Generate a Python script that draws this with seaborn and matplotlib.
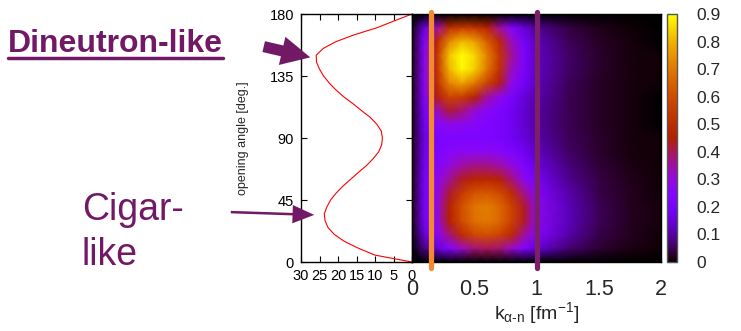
import matplotlib
matplotlib.use('Agg')
import matplotlib.pyplot as plt
import numpy as np
import pandas as pd
import seaborn as sns
from matplotlib.lines import Line2D

# left panel: opening-angle distribution (plotted sideways, x axis reversed)
curve_angle = list(range(0, 181, 5))
curve_density = [0.0, 10.0, 14.5, 18.3, 21.0, 22.7, 23.5, 23.7, 23.0, 22.0,
                 20.5, 18.7, 16.6, 14.5, 12.3, 10.5, 9.0, 8.2, 8.0, 8.3,
                 9.5, 11.3, 13.7, 16.0, 18.5, 20.6, 22.4, 23.9, 25.0, 25.8,
                 25.9, 24.0, 20.5, 15.5, 9.5, 4.8, 0.0]

# right panel: density vs k_alpha-n (columns) and opening angle (rows)
k_values = [0, 0.1, 0.2, 0.3, 0.4, 0.5, 0.6, 0.7, 0.8, 0.9, 1.0, 1.25, 1.5, 1.75, 2.0]
angle_grid = list(range(0, 181, 10))
density = [
    [0.00, 0.00, 0.00, 0.00, 0.00, 0.00, 0.00, 0.00, 0.00, 0.00, 0.00, 0.00, 0.000, 0.000, 0.000],
    [0.00, 0.08, 0.15, 0.24, 0.32, 0.38, 0.40, 0.38, 0.32, 0.23, 0.15, 0.07, 0.030, 0.012, 0.005],
    [0.01, 0.15, 0.25, 0.38, 0.50, 0.59, 0.61, 0.58, 0.49, 0.36, 0.24, 0.11, 0.045, 0.018, 0.007],
    [0.02, 0.19, 0.28, 0.45, 0.60, 0.68, 0.70, 0.67, 0.57, 0.43, 0.27, 0.12, 0.050, 0.020, 0.008],
    [0.02, 0.20, 0.29, 0.46, 0.61, 0.69, 0.71, 0.67, 0.57, 0.43, 0.27, 0.12, 0.050, 0.020, 0.008],
    [0.02, 0.20, 0.28, 0.42, 0.55, 0.62, 0.63, 0.60, 0.50, 0.37, 0.24, 0.11, 0.045, 0.018, 0.007],
    [0.02, 0.20, 0.27, 0.36, 0.43, 0.47, 0.48, 0.46, 0.38, 0.28, 0.20, 0.09, 0.040, 0.015, 0.006],
    [0.02, 0.18, 0.24, 0.30, 0.35, 0.37, 0.37, 0.35, 0.30, 0.22, 0.16, 0.075, 0.032, 0.012, 0.005],
    [0.02, 0.17, 0.22, 0.25, 0.27, 0.27, 0.27, 0.25, 0.22, 0.18, 0.13, 0.06, 0.027, 0.010, 0.004],
    [0.02, 0.16, 0.21, 0.22, 0.22, 0.22, 0.22, 0.21, 0.18, 0.15, 0.11, 0.055, 0.025, 0.010, 0.004],
    [0.02, 0.18, 0.25, 0.28, 0.27, 0.25, 0.23, 0.21, 0.18, 0.14, 0.10, 0.05, 0.022, 0.009, 0.003],
    [0.02, 0.20, 0.33, 0.42, 0.38, 0.31, 0.26, 0.22, 0.18, 0.14, 0.10, 0.05, 0.022, 0.009, 0.003],
    [0.02, 0.23, 0.44, 0.58, 0.56, 0.46, 0.36, 0.28, 0.21, 0.15, 0.11, 0.05, 0.022, 0.009, 0.003],
    [0.02, 0.25, 0.50, 0.72, 0.77, 0.70, 0.58, 0.44, 0.28, 0.19, 0.12, 0.055, 0.024, 0.010, 0.004],
    [0.02, 0.26, 0.52, 0.80, 0.89, 0.84, 0.70, 0.52, 0.33, 0.21, 0.13, 0.06, 0.025, 0.010, 0.004],
    [0.02, 0.26, 0.52, 0.82, 0.90, 0.85, 0.72, 0.54, 0.36, 0.22, 0.13, 0.06, 0.025, 0.010, 0.004],
    [0.02, 0.23, 0.48, 0.73, 0.81, 0.77, 0.65, 0.49, 0.33, 0.20, 0.12, 0.055, 0.022, 0.008, 0.003],
    [0.01, 0.16, 0.34, 0.50, 0.55, 0.53, 0.47, 0.36, 0.24, 0.15, 0.09, 0.04, 0.015, 0.006, 0.002],
    [0.00, 0.00, 0.00, 0.00, 0.00, 0.00, 0.00, 0.00, 0.00, 0.00, 0.00, 0.00, 0.000, 0.000, 0.000],
]
marked_k = [0.15, 1.0]
marked_colors = ['#f28a30', '#7a1f68']
cbar_ticks = [0, 0.1, 0.2, 0.3, 0.4, 0.5, 0.6, 0.7, 0.8, 0.9]

PURPLE = '#721966'


def main():
    sns.set_style('ticks')
    plt.rcParams['font.family'] = ['Liberation Sans', 'DejaVu Sans']
    plt.rcParams['mathtext.fontset'] = 'custom'
    plt.rcParams['mathtext.rm'] = 'Liberation Sans'
    plt.rcParams['mathtext.it'] = 'Liberation Sans:italic'

    fig = plt.figure(figsize=(7.41, 3.31), dpi=100)
    W, H = 741, 331

    def box(x0, x1, y0, y1):
        return [x0 / W, 1 - y1 / H, (x1 - x0) / W, (y1 - y0) / H]

    ax_l = fig.add_axes(box(301, 412, 14, 262))
    ax_m = fig.add_axes(box(412, 661, 14, 262))
    cax = fig.add_axes(box(667, 677, 14, 262))

    # left panel
    df = pd.DataFrame({'angle': curve_angle, 'dens': curve_density})
    sns.lineplot(data=df, x='dens', y='angle', orient='y', estimator=None,
                 color='red', lw=0.8, ax=ax_l)
    ax_l.set_xlim(30, 0)
    ax_l.set_ylim(0, 180)
    ax_l.set_xticks([30, 25, 20, 15, 10, 5, 0])
    ax_l.set_yticks([0, 45, 90, 135, 180])
    ax_l.tick_params(direction='in', top=True, right=True, length=4, width=0.8,
                     labelsize=10.5, colors='black')
    ax_l.tick_params(axis='x', pad=5)
    ax_l.tick_params(axis='y', pad=5)
    ax_l.set_xlabel('')
    ax_l.set_ylabel('opening angle [deg.]', fontsize=9)
    ax_l.yaxis.set_label_coords(-0.47, 0.5)
    for s in ax_l.spines.values():
        s.set_linewidth(1.0)
        s.set_color('black')

    # right panel: density map
    K, TH = np.meshgrid(np.array(k_values), np.array(angle_grid))
    mesh = ax_m.pcolormesh(K, TH, np.array(density), shading='gouraud',
                           cmap='gnuplot', vmin=0, vmax=0.9, rasterized=True)
    ax_m.set_xlim(0, 2)
    ax_m.set_ylim(0, 180)
    ax_m.set_xticks([0, 0.5, 1, 1.5, 2])
    ax_m.set_xticklabels(['0', '0.5', '1', '1.5', '2'])
    ax_m.set_yticks([])
    ax_m.tick_params(axis='x', direction='in', top=True, length=4, width=0.8,
                     labelsize=15.5, pad=12)
    ax_m.set_xlabel(r'k$_{\mathrm{α\text{-}n}}$ [fm$^{-1}$]', fontsize=14)
    ax_m.xaxis.set_label_coords(0.5, -0.155)
    for s in ax_m.spines.values():
        s.set_linewidth(1.0)
        s.set_color('black')
    for k, c in zip(marked_k, marked_colors):
        ax_m.axvline(k, ymin=-0.025, ymax=1.008, color=c, lw=3.8,
                     clip_on=False, zorder=5)

    cb = fig.colorbar(mesh, cax=cax, ticks=cbar_ticks)
    cb.ax.set_yticklabels([f'{t:g}' for t in cbar_ticks])
    cb.ax.tick_params(direction='in', length=3, width=0.8, labelsize=12.5,
                      pad=14, left=True)
    cb.outline.set_edgecolor('#555555')
    cb.outline.set_linewidth(1.0)

    # annotations
    t1 = fig.text(8 / W, 1 - 52 / H, 'Dineutron-like', fontsize=23,
                  fontweight='bold', color=PURPLE, va='baseline', ha='left')
    fig.text(82 / W, 1 - 220 / H, 'Cigar-', fontsize=27, color=PURPLE,
             va='baseline', ha='left')
    fig.text(82 / W, 1 - 265 / H, 'like', fontsize=27, color=PURPLE,
             va='baseline', ha='left')
    fig.canvas.draw()
    bb = t1.get_window_extent()
    fig.add_artist(Line2D([bb.x0 / W, bb.x1 / W], [(H - 58) / H, (H - 58) / H],
                          color=PURPLE, lw=2.5, transform=fig.transFigure))

    ax_l.annotate('', xy=(313, H - 58), xycoords='figure pixels',
                  xytext=(261, H - 46), textcoords='figure pixels',
                  arrowprops=dict(arrowstyle='simple,head_width=1.3,head_length=1.3,tail_width=0.5',
                                  mutation_scale=16, color=PURPLE, lw=0))
    ax_l.annotate('', xy=(317, H - 215), xycoords='figure pixels',
                  xytext=(228, H - 212), textcoords='figure pixels',
                  arrowprops=dict(arrowstyle='simple,head_width=1.1,head_length=1.3,tail_width=0.15',
                                  mutation_scale=12, color=PURPLE, lw=0))

    fig.savefig('out.png', dpi=100)


if __name__ == '__main__':
    main()
